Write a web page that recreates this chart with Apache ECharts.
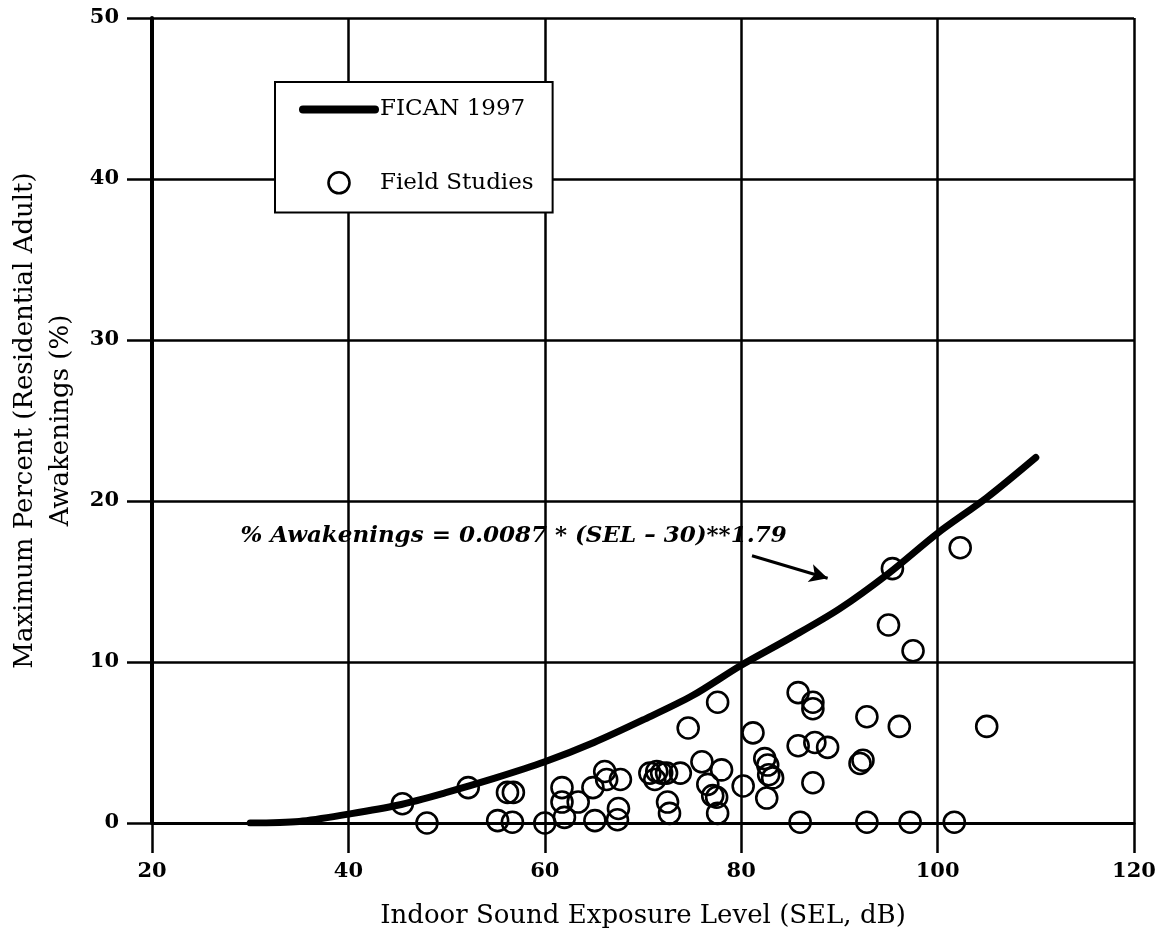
<!DOCTYPE html>
<html>
<head>
<meta charset="utf-8">
<title>Awakenings vs Indoor SEL</title>
<script src="https://cdn.jsdelivr.net/npm/echarts@6/dist/echarts.min.js"></script>
<style>
  html, body { margin: 0; padding: 0; background: #fff; }
  #chart { width: 1166px; height: 935px; }
</style>
</head>
<body>
<div id="chart"></div>
<script>
// FICAN 1997 dose-response curve (indoor SEL, dB -> % awakenings)
const curveSEL   = [30, 35, 40, 45, 50, 55, 60, 65, 70, 75, 80, 85, 90, 95, 100, 105, 110];
const curveAwake = [0, 0.1, 0.55, 1.1, 1.9, 2.8, 3.8, 5.0, 6.4, 7.9, 9.8, 11.5, 13.3, 15.5, 18.0, 20.2, 22.7];

// Field study observations
const fieldSEL = [
  48.0, 55.2, 56.7, 60.0, 62.0, 65.1, 67.4, 73.6, 86.0, 92.8, 97.2, 101.7,
  45.5, 52.2, 56.2, 56.8, 61.75, 61.75, 63.4, 64.9, 66.1, 66.3, 67.7, 67.5,
  70.7, 71.2, 71.4, 71.9, 72.4, 73.8, 72.5, 72.7, 74.6, 76.0, 76.6, 77.1,
  77.5, 77.6, 77.6, 78.0, 80.2, 81.2, 82.4, 82.7, 82.8, 83.2, 82.6, 85.8,
  85.8, 87.3, 87.3, 87.5, 88.8, 87.3, 92.1, 92.4, 92.8, 95.0, 95.4, 96.1,
  97.5, 102.3, 105.0
];
const fieldAwake = [
  0.0, 0.15, 0.05, 0.0, 0.35, 0.15, 0.2, -0.1, 0.05, 0.05, 0.05, 0.05,
  1.2, 2.2, 1.9, 1.9, 2.2, 1.3, 1.3, 2.2, 3.2, 2.7, 2.7, 0.9,
  3.1, 2.7, 3.2, 3.1, 3.1, 3.1, 1.3, 0.6, 5.9, 3.8, 2.4, 1.7,
  1.6, 7.5, 0.6, 3.3, 2.3, 5.6, 4.0, 3.6, 3.0, 2.8, 1.55, 8.1,
  4.8, 7.5, 7.1, 5.0, 4.7, 2.5, 3.7, 3.9, 6.6, 12.3, 15.8, 6.0,
  10.7, 17.1, 6.0
];

// Axis ticks
const xTicks = [20, 40, 60, 80, 100, 120];
const yTicks = [0, 10, 20, 30, 40, 50];

const equationText = '% Awakenings = 0.0087 * (SEL \u2013 30)**1.79';
const equationAnchor = [29.0, 17.8];
const arrowFrom = [81.1, 16.6];
const arrowTo = [88.8, 15.2];

const serif = '"DejaVu Serif", "Liberation Serif", serif';

const curveData = curveSEL.map((x, i) => [x, curveAwake[i]]);
const fieldData = fieldSEL.map((x, i) => [x, fieldAwake[i]]);

const chart = echarts.init(document.getElementById('chart'), null, { renderer: 'canvas' });

chart.setOption({
  animation: false,
  backgroundColor: '#ffffff',
  grid: { left: 152, right: 32, top: 18, bottom: 112, containLabel: false, outerBoundsMode: 'none' },
  legend: {
    orient: 'vertical',
    left: 275,
    top: 82,
    padding: [16, 19, 18, 24],
    itemGap: 50,
    itemWidth: 72,
    itemHeight: 21,
    borderColor: '#000',
    borderWidth: 2,
    backgroundColor: '#fff',
    selectedMode: false,
    textStyle: { fontFamily: serif, fontSize: 23, color: '#000' },
    data: [
      {
        name: 'FICAN 1997',
        itemStyle: { opacity: 0 },
        lineStyle: { color: '#000', width: 8, cap: 'round', opacity: 1 }
      },
      {
        name: 'Field Studies',
        itemStyle: { color: 'rgba(255,255,255,0)', borderColor: '#000', borderWidth: 2.6, opacity: 1 }
      }
    ]
  },
  xAxis: {
    type: 'value',
    min: xTicks[0],
    max: xTicks[xTicks.length - 1],
    interval: 20,
    name: 'Indoor Sound Exposure Level (SEL, dB)',
    nameLocation: 'middle',
    nameGap: 80,
    nameTextStyle: { fontFamily: serif, fontSize: 26, color: '#000' },
    axisLine: { show: true, onZero: false, lineStyle: { color: '#000', width: 3 } },
    axisTick: { show: true, inside: false, length: 30, lineStyle: { color: '#000', width: 2.5 } },
    axisLabel: { margin: 38, fontFamily: serif, fontSize: 21, fontWeight: 'bold', color: '#000' },
    splitLine: { show: true, lineStyle: { color: '#000', width: 2.5 } }
  },
  yAxis: {
    type: 'value',
    min: yTicks[0],
    max: yTicks[yTicks.length - 1],
    interval: 10,
    name: 'Maximum Percent (Residential Adult)\nAwakenings (%)',
    nameLocation: 'middle',
    nameRotate: 90,
    nameGap: 72,
    nameTextStyle: { fontFamily: serif, fontSize: 26, color: '#000', lineHeight: 36, align: 'center' },
    axisLine: { show: true, onZero: false, lineStyle: { color: '#000', width: 4 } },
    axisTick: { show: true, inside: false, length: 25, lineStyle: { color: '#000', width: 2.5 } },
    axisLabel: { margin: 33, fontFamily: serif, fontSize: 21, fontWeight: 'bold', color: '#000' },
    splitLine: { show: true, lineStyle: { color: '#000', width: 2.5 } }
  },
  series: [
    {
      name: 'FICAN 1997',
      type: 'line',
      data: curveData,
      smooth: 0.3,
      symbol: 'none',
      z: 3,
      lineStyle: { color: '#000', width: 7, cap: 'round', join: 'round' },
      itemStyle: { color: '#000' },
      markPoint: {
        silent: true,
        symbol: 'circle',
        symbolSize: 0,
        data: [{ coord: equationAnchor, value: 0 }],
        label: {
          show: true,
          position: 'right',
          distance: 0,
          formatter: equationText,
          fontFamily: serif,
          fontSize: 23,
          fontWeight: 'bold',
          fontStyle: 'italic',
          color: '#000'
        }
      },
      markLine: {
        silent: true,
        symbol: ['none', 'arrow'],
        symbolSize: [14, 18],
        label: { show: false },
        lineStyle: { color: '#000', width: 3, type: 'solid' },
        data: [[{ coord: arrowFrom }, { coord: arrowTo }]]
      }
    },
    {
      name: 'Field Studies',
      type: 'scatter',
      data: fieldData,
      symbol: 'circle',
      symbolSize: 21,
      z: 4,
      itemStyle: { color: 'rgba(255,255,255,0)', borderColor: '#000', borderWidth: 2.6, opacity: 1 }
    }
  ]
});
</script>
</body>
</html>
